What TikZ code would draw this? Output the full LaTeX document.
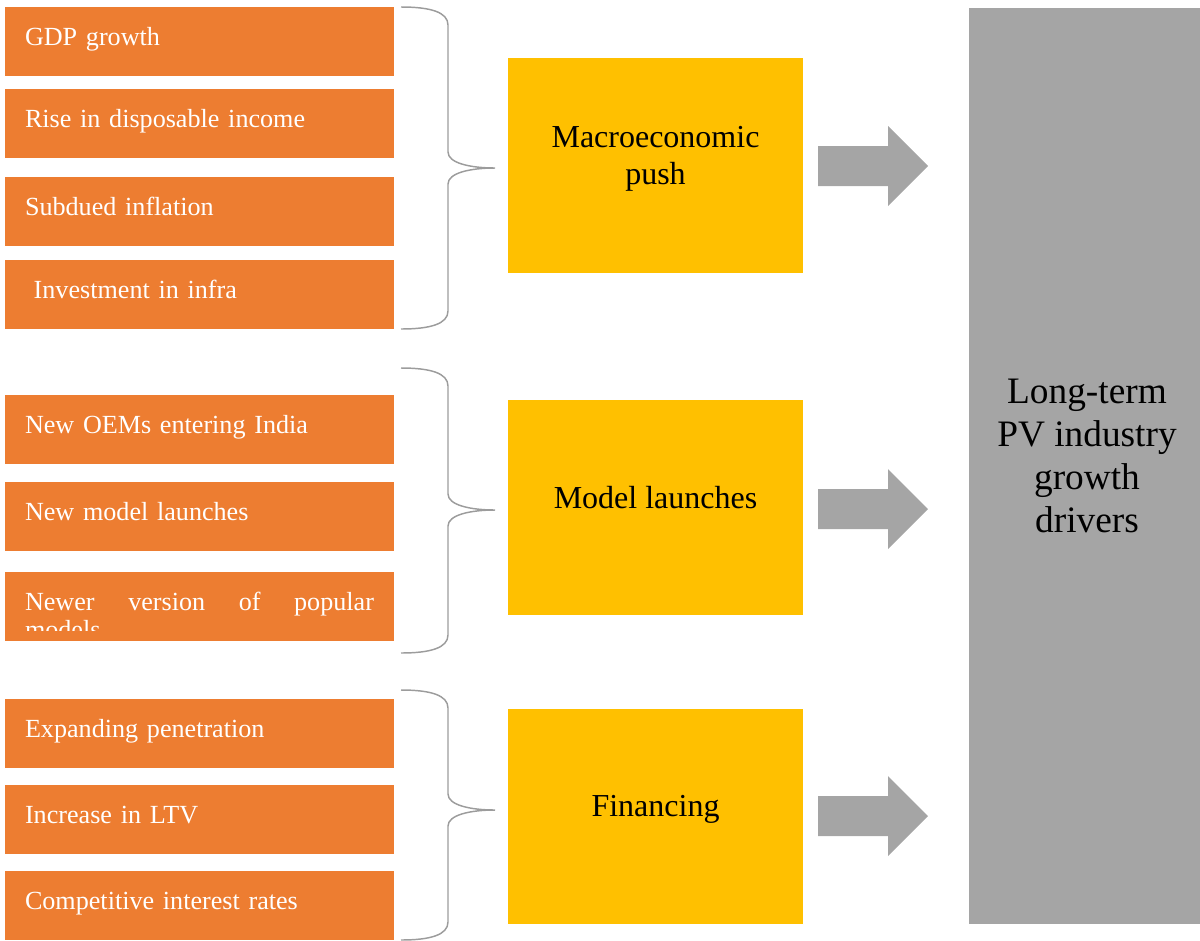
\documentclass[tikz,border=0pt]{standalone}
\usepackage{fontspec}
\setmainfont{Liberation Serif}

\definecolor{causeorange}{HTML}{ED7D31}
\definecolor{driveryellow}{HTML}{FFC000}
\definecolor{pvgray}{HTML}{A5A5A5}
\definecolor{bracegray}{HTML}{9C9C9C}

\hyphenpenalty=10000
\tolerance=10000

% curly brace: top, tip, bottom (pixel rows)
\newcommand{\groupbrace}[3]{%
  \draw[bracegray, line width=1.1pt] (401,#1) .. controls (430,#1) and (448,#1+5) .. (448,#1+18)
    -- (448,#2-16) .. controls (448,#2-5) and (470,#2) .. (495,#2)
    .. controls (470,#2) and (448,#2+5) .. (448,#2+16)
    -- (448,#3-18) .. controls (448,#3-5) and (430,#3) .. (401,#3);
}
% block arrow centred on a row
\newcommand{\pvarrow}[1]{%
  \fill[pvgray] (818,#1-20) -- (888,#1-20) -- (888,#1-40) -- (928,#1)
    -- (888,#1+40) -- (888,#1+20) -- (818,#1+20) -- cycle;
}

\tikzset{
  cause/.style={fill=causeorange, text=white, font=\fontsize{19.6}{24.75}\selectfont,
    text width=261.75pt, inner xsep=15pt, inner ysep=0pt,
    text height=28.5pt, text depth=23.25pt, align=left},
  driver/.style={fill=driveryellow, minimum width=221.25pt, minimum height=161.25pt, inner sep=0pt},
  drivertext/.style={font=\fontsize{24}{27.75}\selectfont, align=center},
  outcome/.style={fill=pvgray, minimum width=173.25pt, minimum height=687pt, inner sep=0pt},
  outcometext/.style={font=\fontsize{28}{32.25}\selectfont, align=center}
}

\begin{document}
\begin{tikzpicture}[x=0.75pt, y=-0.75pt]
      \useasboundingbox (0,0) rectangle (1200,940);

      % macroeconomic push
      \node[cause] (gdp) at (199.5, 41.5) {GDP growth};
      \node[cause] (income) at (199.5, 123.5) {Rise in disposable income};
      \node[cause] (inflation) at (199.5, 211.5) {Subdued inflation};
      \node[cause] (infra) at (199.5, 294.5) {~Investment in infra};
      \groupbrace{7}{168}{329}
      \node[driver] (macro) at (655.5, 165.5) {};
      \node[drivertext] (macrotext) at (655.5, 158.5) {Macroeconomic\\push};

      % model launches
      \node[cause] (oems) at (199.5, 429.5) {New OEMs entering India};
      \node[cause] (launches) at (199.5, 516.5) {New model launches};
      \node[cause] (newer) at (199.5, 606.5) {};
      \begin{scope}
        \clip (5,572) rectangle (394,630);
        \node[cause, fill=none, align=justify, font=\fontsize{19.6}{21}\selectfont] (newertext)
          at (199.5, 606.5) {Newer version of popular\linebreak models};
      \end{scope}
      \groupbrace{368}{510}{653}
      \node[driver] (models) at (655.5, 507.5) {};
      \node[drivertext] (modelstext) at (655.5, 497.5) {Model launches};

      % financing
      \node[cause] (penetration) at (199.5, 733.5) {Expanding penetration};
      \node[cause] (ltv) at (199.5, 819.5) {Increase in LTV};
      \node[cause] (rates) at (199.5, 905.5) {Competitive interest rates};
      \groupbrace{690}{810}{940}
      \node[driver] (finance) at (655.5, 816.5) {};
      \node[drivertext] (financetext) at (655.5, 809.5) {Financing};

      % arrows into the outcome
      \pvarrow{166}
      \pvarrow{509}
      \pvarrow{816}

      \node[outcome] (pv) at (1084.5, 466) {};
      \node[outcometext] (pvtext) at (1087, 455.5) {Long-term\\PV industry\\growth\\drivers};
    \end{tikzpicture}
\end{document}
